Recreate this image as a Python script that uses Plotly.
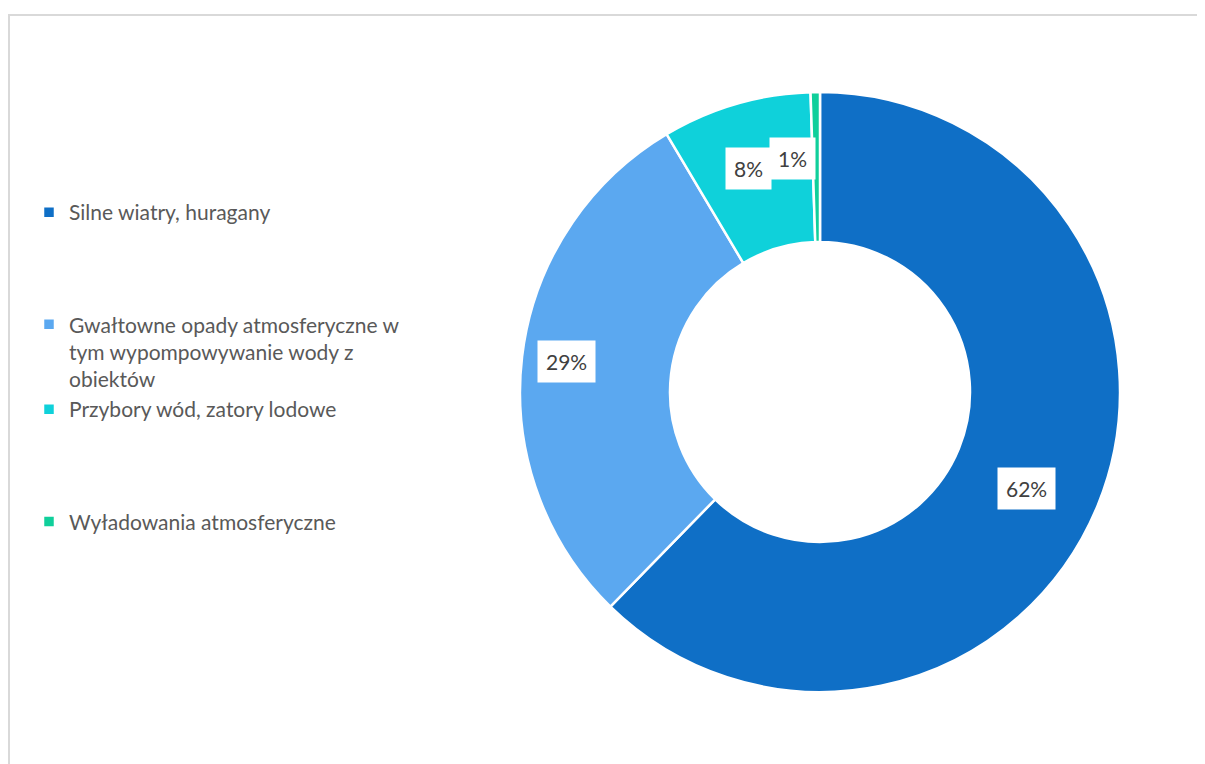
import math
import plotly.graph_objects as go

# ── data ─────────────────────────────────────────────
labels = [
    "Silne wiatry, huragany",
    "Gwałtowne opady atmosferyczne w<br>tym wypompowywanie wody z<br>obiektów",
    "Przybory wód, zatory lodowe",
    "Wyładowania atmosferyczne",
]
values = [62.0, 29.0, 8.0, 0.5]
colors = ["#0F6FC6", "#5BA8F0", "#0FD1DA", "#10CF9B"]

W, H = 1205, 764
OFF = 8  # page body margin
FONT = "Lato, 'Open Sans', Arial, sans-serif"

# pad legend entries with blank lines to spread them out
legend_lines = [4, 3, 4, 1]
legend_text = []
for lab, n_tot in zip(labels, legend_lines):
    n = lab.count("<br>") + 1
    legend_text.append(lab + "<br> " * max(0, n_tot - n))

# pie placement (pixels, figure coords)
cx, cy, R = 820 - OFF, 392 - OFF, 300
dom_x = [(cx - R) / W, (cx + R) / W]
dom_y = [1 - (cy + R) / H, 1 - (cy - R) / H]

fig = go.Figure()
fig.add_trace(go.Pie(
    labels=legend_text,
    values=values,
    hole=0.5,
    sort=False,
    direction="clockwise",
    rotation=0,
    marker=dict(colors=colors, line=dict(color="white", width=2.5)),
    textinfo="none",
    hovertemplate="%{label}: %{percent}<extra></extra>",
    domain=dict(x=dom_x, y=dom_y),
))

# data labels in white boxes at the slice mid-angle
total = sum(values)
annotations = []
cum = 0.0
r_lab = 255
for v in values:
    mid = (cum + v / 2) / total * 2 * math.pi
    cum += v
    dx = r_lab * math.sin(mid)
    dy = -r_lab * math.cos(mid)
    annotations.append(dict(
        x=(cx + dx) / W, y=1 - (cy + dy) / H,
        xref="paper", yref="paper",
        text=f"{round(v / total * 100)}%",
        showarrow=False,
        bgcolor="white",
        borderpad=8,
        font=dict(size=21, color="#404040", family=FONT),
    ))

fig.update_layout(
    width=W, height=H,
    margin=dict(l=0, r=0, t=0, b=0),
    paper_bgcolor="white",
    plot_bgcolor="white",
    font=dict(family=FONT, color="#595959"),
    showlegend=True,
    legend=dict(
        x=21 / W, y=1 - 184 / H,
        xanchor="left", yanchor="top",
        valign="top",
        font=dict(size=21, color="#595959", family=FONT),
        bgcolor="rgba(0,0,0,0)",
    ),
    annotations=annotations,
    shapes=[dict(
        type="rect", xref="paper", yref="paper",
        x0=1 / W, x1=1.05, y0=-0.05, y1=1 - 7 / H,
        line=dict(color="#D9D9D9", width=2),
        fillcolor="rgba(0,0,0,0)",
        layer="below",
    )],
)

fig.write_html("out.html")
